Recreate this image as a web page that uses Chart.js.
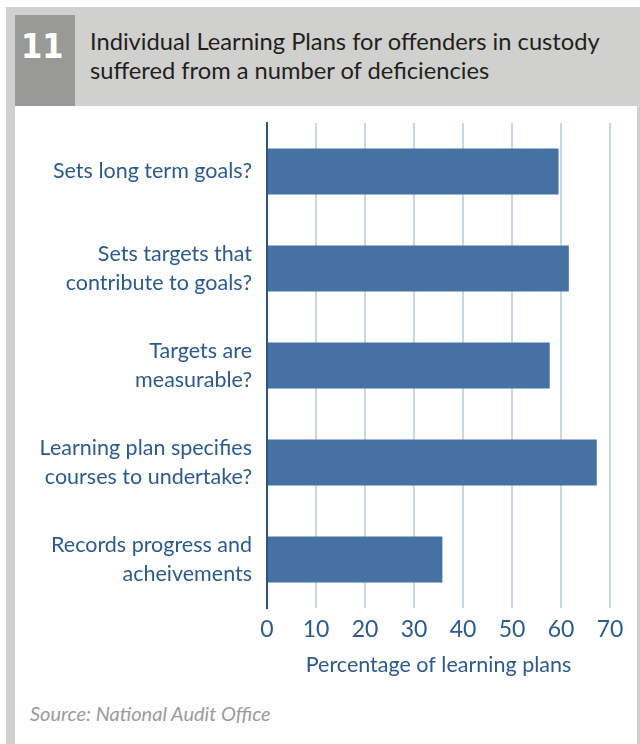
<!DOCTYPE html>
<html>
<head>
<meta charset="utf-8">
<script src="https://cdn.jsdelivr.net/npm/chart.js@4/dist/chart.umd.min.js"></script>
<style>
	body { margin: 0; background: #fff; width: 640px; height: 744px; position: relative; overflow: hidden; font-family: Lato, "Open Sans", sans-serif; }
	#frame { position: absolute; left: 6px; top: 7px; width: 634px; height: 737px; background: #d0d0ce; }
	#panel { position: absolute; left: 15px; top: 106px; width: 622px; height: 638px; background: #fff; }
	#num { position: absolute; left: 15px; top: 15px; width: 60px; height: 91px; background: #999997; color: #fff; font: bold 34px "DejaVu Sans", sans-serif; }
	#num span { position: absolute; left: 6px; top: 11px; transform: scaleX(0.9); transform-origin: left top; }
	#title { position: absolute; left: 90px; top: 27px; font-size: 23.7px; line-height: 29px; color: #231f20; white-space: nowrap; }
	#source { position: absolute; left: 30px; top: 701px; font-size: 20px; font-style: italic; color: #9a9a9a; }
	#wrap { position: absolute; left: 0; top: 0; width: 640px; height: 744px; }
</style>
</head>
<body>
<div id="frame"></div>
<div id="panel"></div>
<div id="num"><span>11</span></div>
<div id="title">Individual Learning Plans for offenders in custody<br>suffered from a number of deficiencies</div>
<div id="source">Source: National Audit Office</div>
<div id="wrap"><canvas id="chart" width="640" height="744"></canvas></div>
<script>
// data
const categories = [
	["Sets long term goals?"],
	["Sets targets that", "contribute to goals?"],
	["Targets are", "measurable?"],
	["Learning plan specifies", "courses to undertake?"],
	["Records progress and", "acheivements"],
];
const percentages = [59.5, 61.6, 57.7, 67.3, 35.8];
const xTicks = [0, 10, 20, 30, 40, 50, 60, 70];

const labelBlue = "#2b5a8f";

new Chart(document.getElementById("chart"), {
	type: "bar",
	data: {
		labels: categories,
		datasets: [
			{
				data: percentages,
				backgroundColor: "#4672a3",
				barPercentage: 0.475,
				categoryPercentage: 1,
			},
		],
	},
	options: {
		indexAxis: "y",
		responsive: false,
		animation: false,
		layout: { padding: { top: 123, right: 30, bottom: 66, left: 0 } },
		plugins: {
			legend: { display: false },
			tooltip: { enabled: false },
		},
		scales: {
			x: {
				min: 0,
				max: 70,
				afterBuildTicks: (scale) => {
					scale.ticks = xTicks.map((v) => ({ value: v }));
				},
				afterFit: (scale) => {
					scale.height = 70;
				},
				grid: {
					drawTicks: false,
					lineWidth: 2,
					color: (ctx) => (ctx.tick && ctx.tick.value === 0 ? "#2b5486" : "#c9d6e6"),
				},
				border: { display: false },
				ticks: {
					padding: 8,
					color: labelBlue,
					font: { family: "Lato", size: 23 },
				},
				title: {
					display: true,
					text: "Percentage of learning plans",
					color: labelBlue,
					font: { family: "Lato", size: 21.5 },
					padding: { top: 2, bottom: 0 },
				},
			},
			y: {
				afterFit: (scale) => {
					scale.width = 267;
				},
				grid: { display: false, drawTicks: false },
				border: { display: true, color: "#2b5486", width: 2 },
				ticks: {
					padding: 15,
					color: labelBlue,
					font: { family: "Lato", size: 21.5, lineHeight: 1.35 },
				},
			},
		},
	},
});
</script>
</body>
</html>
